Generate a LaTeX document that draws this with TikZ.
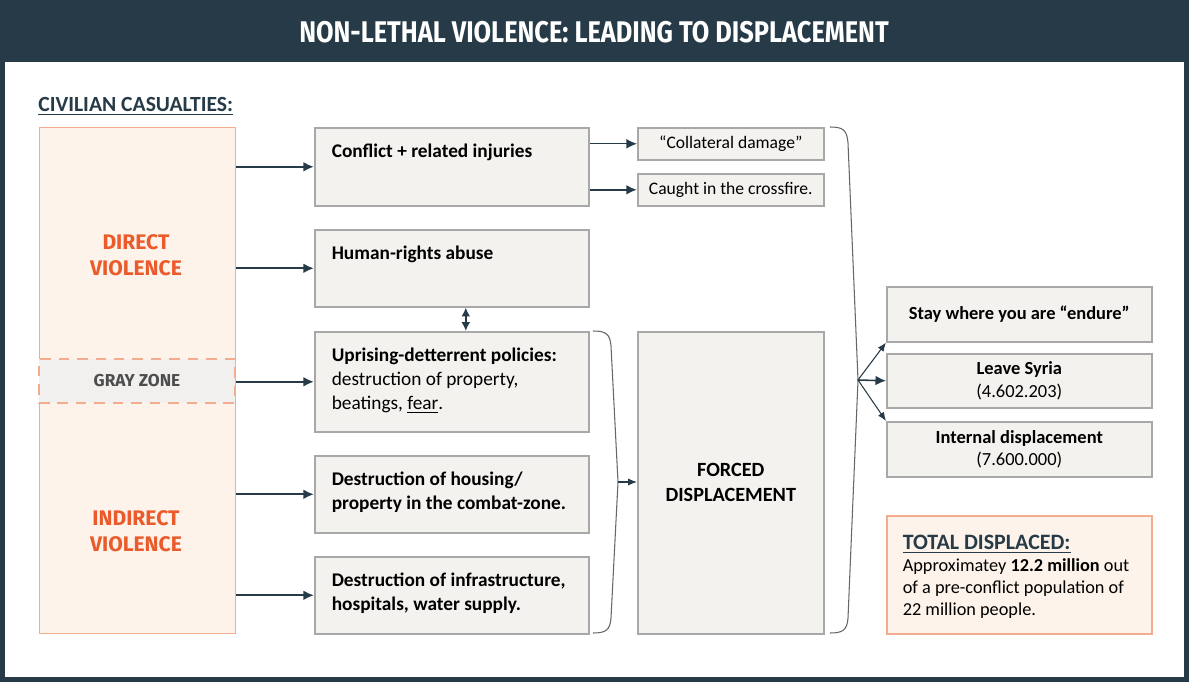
\documentclass[tikz,border=0pt]{standalone}
\usepackage{fontspec}
\setmainfont{Carlito}
\newfontfamily\headfont[FakeStretch=0.85]{Fira Sans}
\newfontfamily\zonefont{Fira Sans}
\usetikzlibrary{arrows.meta}
\definecolor{navy}{HTML}{263B47}
\definecolor{boxfill}{HTML}{F4F2EE}
\definecolor{boxline}{HTML}{A8A8A8}
\definecolor{peach}{HTML}{FDF3EA}
\definecolor{peachline}{HTML}{F2AC8E}
\definecolor{flame}{HTML}{EA5A2B}
\definecolor{zonegray}{HTML}{F1F0EE}
\definecolor{zonetext}{HTML}{4D4D4D}
\newlength{\pxu}
\setlength{\pxu}{0.02cm}
\newcommand{\toptext}[4][30]{\parbox[c][#2\pxu][t]{#3\pxu}{\raggedright\rule{0pt}{#1\pxu}#4}}
\tikzstyle{link} = [navy,line width=1.2pt,-{Latex[length=6pt,width=5.5pt]}]
\tikzstyle{thinlink} = [navy,line width=0.6pt,-{Latex[length=5pt,width=4pt]}]
\tikzstyle{dlink} = [navy,line width=1.2pt,{Latex[length=5pt,width=5pt]}-{Latex[length=5pt,width=5pt]}]
\tikzstyle{brace} = [black!60,line width=0.6pt]
\tikzstyle{midbox} = [rectangle,draw=boxline,fill=boxfill,line width=0.9pt,anchor=north west,inner xsep=17\pxu,inner ysep=0pt,align=left]
\tikzstyle{sidebox} = [rectangle,draw=boxline,fill=boxfill,line width=0.9pt,anchor=north west,inner sep=0pt,align=center]
\tikzstyle{zonelabel} = [font=\zonefont\bfseries\fontsize{12}{14.8}\selectfont,text=flame,align=center]

\begin{document}
\begin{tikzpicture}[x=0.02cm,y=-0.02cm,font=\fontsize{11}{13.66}\selectfont]
  \useasboundingbox (0,0) rectangle (1189,682);
  \fill[navy] (0,0) rectangle (1189,682);
  \fill[white] (5,62) rectangle (1184,677);
  \node[font=\headfont\bfseries\fontsize{17}{19}\selectfont,text=white] (title) at (594,32) {NON-LETHAL VIOLENCE: LEADING TO DISPLACEMENT};

  \node[anchor=west,inner sep=0pt,font=\bfseries\fontsize{12.3}{15}\selectfont,text=navy] (civlabel) at (38,106) {\underline{CIVILIAN CASUALTIES:}};
  \node[rectangle,draw=peachline,fill=peach,line width=0.8pt,anchor=north west,minimum width=196\pxu,minimum height=506\pxu] (civil) at (39,127) {};
  \node[rectangle,draw=peachline,dashed,dash pattern=on 6pt off 4.5pt,fill=zonegray,line width=0.8pt,minimum width=196\pxu,minimum height=44\pxu,text=zonetext,font=\zonefont\bfseries\fontsize{9.8}{12}\selectfont] (grayzone) at (137,381) {GRAY ZONE};
  \node[zonelabel] (direct) at (136,255) {DIRECT\\VIOLENCE};
  \node[zonelabel] (indirect) at (136,531) {INDIRECT\\VIOLENCE};

  \node[midbox] (conflict) at (314,127) {\toptext{78}{240}{\textbf{Conflict + related injuries}}};
  \node[midbox] (human) at (314,229) {\toptext{77}{240}{\textbf{Human-rights abuse}}};
  \node[midbox] (uprising) at (314,331) {\toptext{100}{240}{\textbf{Uprising-detterrent policies:}\\destruction of property,\\beatings, \underline{fear}.}};
  \node[midbox] (housing) at (314,455) {\toptext{77}{240}{\textbf{Destruction of housing/}\\\textbf{property in the combat-zone.}}};
  \node[midbox] (infra) at (314,556) {\toptext{77}{240}{\textbf{Destruction of infrastructure,}\\\textbf{hospitals, water supply.}}};

  \node[sidebox,minimum width=186\pxu,minimum height=32\pxu,font=\fontsize{10}{12}\selectfont] (collateral) at (637,127) {``Collateral damage''};
  \node[sidebox,minimum width=186\pxu,minimum height=32\pxu,font=\fontsize{10}{12}\selectfont] (crossfire) at (637,173) {Caught in the crossfire.};
  \node[sidebox,minimum width=186\pxu,minimum height=302\pxu,font=\bfseries\fontsize{11.5}{14.2}\selectfont] (forced) at (637,331) {FORCED\\DISPLACEMENT};

  \node[sidebox,minimum width=265\pxu,minimum height=55\pxu,font=\fontsize{10.5}{13}\selectfont] (stay) at (886,286) {\textbf{Stay where you are ``endure''}};
  \node[sidebox,minimum width=265\pxu,minimum height=54\pxu,font=\fontsize{10.5}{13}\selectfont] (leave) at (886,353) {\textbf{Leave Syria}\\(4.602.203)};
  \node[sidebox,minimum width=265\pxu,minimum height=55\pxu,font=\fontsize{10.5}{13}\selectfont] (internal) at (886,421) {\textbf{Internal displacement}\\(7.600.000)};
  \node[midbox,draw=peachline,fill=peach,inner xsep=16\pxu,font=\fontsize{10.4}{12.5}\selectfont] (total) at (886,515) {\toptext[34]{118}{233}{\textcolor{navy}{\fontsize{12.5}{12.5}\selectfont\textbf{\underline{TOTAL DISPLACED:}}}\\Approximatey \textbf{12.2 million} out\\of a pre-conflict population of\\22 million people.}};

  \draw[link] (civil.east |- conflict.west) -- (conflict.west);
  \draw[link] (civil.east |- human.west) -- (human.west);
  \draw[link] (civil.east |- uprising.west) -- (uprising.west);
  \draw[link] (civil.east |- housing.west) -- (housing.west);
  \draw[link] (civil.east |- infra.west) -- (infra.west);
  \draw[link,line width=0.7pt] (collateral.west -| conflict.east) -- (collateral.west);
  \draw[link] (crossfire.west -| conflict.east) -- (crossfire.west);
  \draw[dlink] ([xshift=14\pxu]human.south) -- ([xshift=14\pxu]uprising.north);

  \draw[brace] (593,331) .. controls (606,331) and (610,334) .. (611,346) -- (618,482) coordinate (tip1) -- (611,618) .. controls (610,630) and (606,633) .. (593,633);
  \draw[thinlink] (tip1) -- (tip1 -| forced.west);
  \draw[brace] (830,127) .. controls (843,127) and (847,130) .. (848,143) -- (858,380) coordinate (tip2) -- (848,618) .. controls (847,630) and (843,633) .. (830,633);
  \draw[thinlink] (tip2) -- (stay.south west);
  \draw[link,line width=0.9pt] (tip2) -- (leave.west);
  \draw[thinlink] (tip2) -- (internal.north west);
\end{tikzpicture}
\end{document}
